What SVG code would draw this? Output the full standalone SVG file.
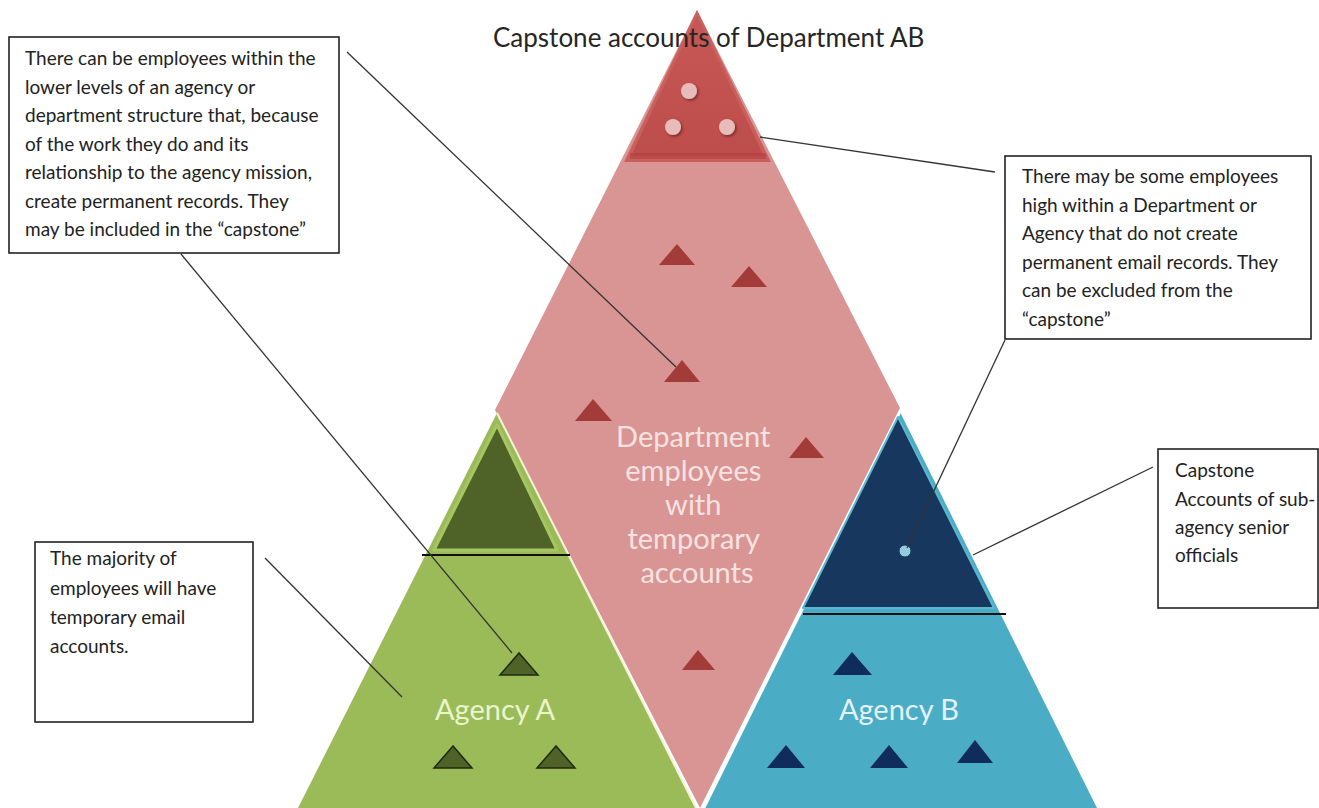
<svg xmlns="http://www.w3.org/2000/svg" width="1319" height="808" viewBox="0 0 1319 808">
  <style>
    .note-box { fill: #ffffff; stroke: #222222; stroke-width: 1.6; }
    .note { font-family: Lato, "Open Sans", sans-serif; font-size: 19px; fill: #222222; }
    .big { font-family: Lato, "Open Sans", sans-serif; font-size: 29px; text-anchor: middle; }
    .title { font-family: Lato, "Open Sans", sans-serif; font-size: 26px; fill: #262626; }
    .connector { stroke: #333333; stroke-width: 1.3; fill: none; }
    .tri-red { fill: #a33b38; }
    .tri-green { fill: #4f6228; stroke: #1e2a0e; stroke-width: 1.5; }
    .tri-navy { fill: #102c5c; }
  </style>
  <defs>
    <linearGradient id="capRed" x1="0" y1="0" x2="0" y2="1">
      <stop offset="0" stop-color="#c65855"/>
      <stop offset="1" stop-color="#bd4d4a"/>
    </linearGradient>
    <filter id="dotShadow" x="-50%" y="-50%" width="200%" height="200%">
      <feDropShadow dx="1.5" dy="1.5" stdDeviation="1" flood-color="#6e2422" flood-opacity="0.8"/>
    </filter>
  </defs>

  <rect width="1319" height="808" fill="#ffffff"/>

  <!-- Department diamond with its capstone -->
  <g id="department">
    <polygon points="697,10 900,408 700,808 495,410" fill="#d99594"/>
    <polygon points="697,10 624,162 771,162" fill="#c9605d"/>
    <polygon points="697,16 631,156 764,156" fill="url(#capRed)"/>
    <rect x="630" y="153" width="136" height="6" fill="#b2403d" opacity="0.6"/>
    <g filter="url(#dotShadow)" fill="#e8bcbb">
      <circle cx="689" cy="91" r="8"/>
      <circle cx="673" cy="127" r="8"/>
      <circle cx="727" cy="127" r="8"/>
    </g>
    <polygon class="tri-red" points="677,244 659,265 695,265"/>
    <polygon class="tri-red" points="749,266 731,287 767,287"/>
    <polygon class="tri-red" points="682,360 664,382 700,382"/>
    <polygon class="tri-red" points="593,399 575,421 612,421"/>
    <polygon class="tri-red" points="806,437 789,458 824,458"/>
    <polygon class="tri-red" points="698,650 682,670 715,670"/>
    <text class="big" x="697" fill="#f8e2e1">
      <tspan x="697" y="447">Department</tspan>
      <tspan x="697" y="481">employees</tspan>
      <tspan x="697" y="515">with</tspan>
      <tspan x="697" y="549">temporary</tspan>
      <tspan x="697" y="583">accounts</tspan>
    </text>
  </g>

  <!-- Agency A -->
  <g id="agency-a">
    <polygon points="497,413 696,808 298,808" fill="#9bbb59"/>
    <line x1="497" y1="413" x2="696" y2="808" stroke="#f3f1d4" stroke-width="2"/>
    <polygon points="497,425 557,550 434,550" fill="#4f6228" stroke="#a5c662" stroke-width="3" stroke-linejoin="round"/>
    <line x1="422" y1="555" x2="570" y2="555" stroke="#111111" stroke-width="2"/>
    <polygon class="tri-green" points="519,653 500,675 538,675"/>
    <polygon class="tri-green" points="453,746 434,768 472,768"/>
    <polygon class="tri-green" points="556,746 537,768 575,768"/>
    <text class="big" x="495" y="720" fill="#eaf5cc">Agency A</text>
  </g>

  <!-- Agency B -->
  <g id="agency-b">
    <polygon points="900,412 1097,808 704,808" fill="#4bacc6"/>
    <line x1="900" y1="412" x2="704" y2="808" stroke="#ffffff" stroke-width="2.5"/>
    <polygon points="898,417 994,608 803,608" fill="#17375e" stroke="#5bb6cf" stroke-width="2" stroke-linejoin="round"/>
    <line x1="803" y1="614" x2="1006" y2="614" stroke="#111111" stroke-width="2"/>
    <circle cx="905" cy="551" r="6" fill="#93cddd" stroke="#17375e" stroke-width="1"/>
    <polygon class="tri-navy" points="852,652 833,675 872,675"/>
    <polygon class="tri-navy" points="786,745 767,768 805,768"/>
    <polygon class="tri-navy" points="889,745 870,768 908,768"/>
    <polygon class="tri-navy" points="975,740 957,763 993,763"/>
    <text class="big" x="899" y="720" fill="#e2f2f7">Agency B</text>
  </g>

  <!-- Title -->
  <g id="title">
    <text class="title" x="493" y="47">Capstone accounts of Department AB</text>
  </g>

  <!-- Callout notes -->
  <g id="note-lower-levels">
    <rect class="note-box" x="9" y="37" width="330" height="216"/>
    <text class="note">
      <tspan x="25" y="65">There can be employees within the</tspan>
      <tspan x="25" y="93.5">lower levels of an agency or</tspan>
      <tspan x="25" y="122">department structure that, because</tspan>
      <tspan x="25" y="150.5">of the work they do and its</tspan>
      <tspan x="25" y="179">relationship to the agency mission,</tspan>
      <tspan x="25" y="207.5">create permanent records. They</tspan>
      <tspan x="25" y="236">may be included in the “capstone”</tspan>
    </text>
  </g>

  <g id="note-high-employees">
    <rect class="note-box" x="1005" y="156" width="306" height="183"/>
    <text class="note">
      <tspan x="1022" y="183">There may be some employees</tspan>
      <tspan x="1022" y="211.5">high within a Department or</tspan>
      <tspan x="1022" y="240">Agency that do not create</tspan>
      <tspan x="1022" y="268.5">permanent email records. They</tspan>
      <tspan x="1022" y="297">can be excluded from the</tspan>
      <tspan x="1022" y="325.5">“capstone”</tspan>
    </text>
  </g>

  <g id="note-majority">
    <rect class="note-box" x="35" y="542" width="218" height="180"/>
    <text class="note">
      <tspan x="50" y="565">The majority of</tspan>
      <tspan x="50" y="594.5">employees will have</tspan>
      <tspan x="50" y="624">temporary email</tspan>
      <tspan x="50" y="653">accounts.</tspan>
    </text>
  </g>

  <g id="note-sub-agency">
    <rect class="note-box" x="1158" y="449" width="160" height="159"/>
    <text class="note">
      <tspan x="1175" y="477">Capstone</tspan>
      <tspan x="1175" y="505.5">Accounts of sub-</tspan>
      <tspan x="1175" y="534">agency senior</tspan>
      <tspan x="1175" y="562">officials</tspan>
    </text>
  </g>

  <!-- Leader lines from notes to the shapes they describe -->
  <g id="connectors">
    <line class="connector" x1="347" y1="52" x2="676" y2="367"/>
    <line class="connector" x1="181" y1="254" x2="512" y2="653"/>
    <line class="connector" x1="265" y1="558" x2="402" y2="697"/>
    <line class="connector" x1="760" y1="137" x2="995" y2="172"/>
    <line class="connector" x1="1005" y1="340" x2="907" y2="548"/>
    <line class="connector" x1="973" y1="555" x2="1153" y2="467"/>
  </g>
</svg>
